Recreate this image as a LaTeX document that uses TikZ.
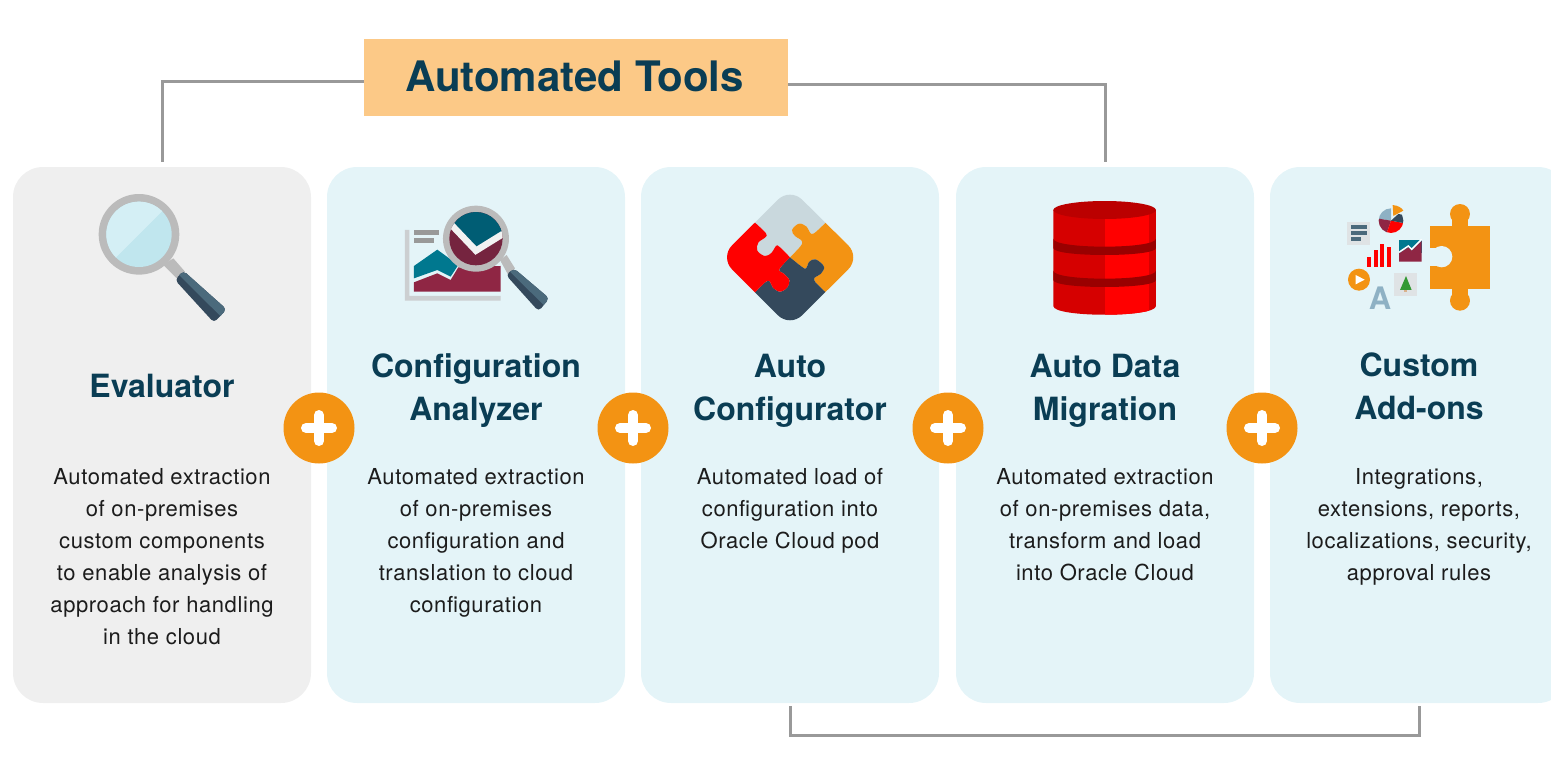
\documentclass[tikz,border=0pt]{standalone}
\usepackage{fontspec}
\setmainfont{TeX Gyre Heros}
\definecolor{panelgray}{HTML}{EFEFEF}
\definecolor{panelblue}{HTML}{E4F4F8}
\definecolor{headblue}{HTML}{0A3D54}
\definecolor{bodyblack}{HTML}{1C1C1C}
\definecolor{linegray}{HTML}{999999}
\definecolor{titleorange}{HTML}{FCC987}
\definecolor{plusorange}{HTML}{F39313}
\definecolor{ringgray}{HTML}{BBBBBB}
\definecolor{slate}{HTML}{34495C}
\definecolor{slatelight}{HTML}{4B6A7C}
\definecolor{teal}{HTML}{00788F}
\definecolor{tealdark}{HTML}{005D74}
\definecolor{wine}{HTML}{8F2644}
\definecolor{winedark}{HTML}{75243F}
\definecolor{iconbox}{HTML}{DFE3E5}
\definecolor{steelblue}{HTML}{8EB1C4}
\definecolor{lensdark}{HTML}{C0E6EE}
\definecolor{lenslight}{HTML}{D4EFF5}
\definecolor{puzzlegray}{HTML}{C9D8DD}
\definecolor{dbface}{HTML}{D60000}
\definecolor{dbband}{HTML}{990000}
\definecolor{dbtop}{HTML}{BB0000}
\tikzset{
  panel/.style={minimum width=298pt,minimum height=536pt,rounded corners=30pt,inner sep=0pt,fill=panelblue},
  titlebox/.style={fill=titleorange,minimum width=424pt,minimum height=77pt,inner sep=0pt,text=headblue,font=\fontsize{42}{42}\selectfont\bfseries},
  heading/.style={text=headblue,align=center,anchor=north,inner sep=0pt,execute at begin node=\strut,font=\fontsize{32}{43}\selectfont\bfseries},
  bodytext/.style={text=bodyblack,align=center,anchor=north,inner sep=0pt,execute at begin node=\strut,font=\fontsize{22}{32}\selectfont\addfontfeature{LetterSpace=2.7}},
  plusdisc/.style={circle,fill=plusorange,minimum size=71pt,inner sep=0pt},
  connector/.style={draw=linegray,line width=3pt},
}
\begin{document}
\begin{tikzpicture}[x=1pt,y=-1pt]
\clip (0,0) rectangle (1551,758);
% panels
\node[panel,fill=panelgray] (evaluator) at (162,435) {};
\node[panel] (analyzer) at (476,435) {};
\node[panel] (configurator) at (790,435) {};
\node[panel] (migration) at (1105,435) {};
\node[panel] (addons) at (1419,435) {};
% title and its brackets
\node[titlebox] (title) at (576,77.5) {\raisebox{2.5pt}{Automated Tools\hspace{3pt}}};
\draw[connector] ([yshift=-3.5pt]title.west) -| ([yshift=5pt]evaluator.north);
\draw[connector] ([yshift=-6.5pt]title.east) -| ([yshift=5pt]migration.north);
\draw[connector] ([yshift=-3pt]configurator.south) -- ++(0,29) -| ([yshift=-3pt]addons.south);
% headings
\node[heading] (evaluatorhead) at (162,367) {Evaluator};
\node[heading] (analyzerhead) at (476,353) {Configuration\\Analyzer};
\node[heading] (configuratorhead) at (790,353.5) {Auto\\Configurator};
\node[heading] (migrationhead) at (1105,353.5) {Auto Data\\Migration};
\node[heading] (addonshead) at (1419,353) {Custom\\Add-ons};
% descriptions
\node[bodytext] (evaluatortext) at (162,468) {Automated extraction\\of on-premises\\custom components\\to enable analysis of\\approach for handling\\in the cloud};
\node[bodytext] (analyzertext) at (476,468) {Automated extraction\\of on-premises\\configuration and\\translation to cloud\\configuration};
\node[bodytext] (configuratortext) at (790,468) {Automated load of\\configuration into\\Oracle Cloud pod};
\node[bodytext] (migrationtext) at (1105,468) {Automated extraction\\of on-premises data,\\transform and load\\into Oracle Cloud};
\node[bodytext] (addonstext) at (1419,468) {Integrations,\\extensions, reports,\\localizations, security,\\approval rules};
% plus signs
\foreach \n/\x in {1/319,2/633,3/948,4/1262} {
  \node[plusdisc] (plus\n) at (\x,428) {};
  \draw[white,line width=10pt,line cap=round] ([xshift=-13pt]plus\n.center) -- ([xshift=13pt]plus\n.center);
  \draw[white,line width=10pt,line cap=round] ([yshift=-13pt]plus\n.center) -- ([yshift=13pt]plus\n.center);
}
% magnifier and chart icons
\begin{scope}[shift={(60,180)},scale=0.3333]
\fill[ringgray] (237,163) circle[radius=121];
\fill[ringgray] (310,255) -- (340,235) -- (375,275) -- (350,295) -- cycle;
\fill[lensdark] (237,163) circle[radius=98];
\begin{scope}
\clip (237,163) circle[radius=98];
\fill[lenslight] (100,30) -- (370,30) -- (100,300) -- cycle;
\end{scope}
\fill[slate,rounded corners=4pt] (370,272) -- (500,388) -- (462,428) -- (345,300) -- cycle;
\begin{scope}
\clip (358,286) -- (481,408) -- (520,380) -- (380,250) -- cycle;
\fill[slatelight,rounded corners=4pt] (370,272) -- (500,388) -- (462,428) -- (345,300) -- cycle;
\end{scope}
\fill[iconbox!80!gray] (1035,150) -- (1048,150) -- (1048,348) -- (1322,348) -- (1322,362) -- (1035,362) -- cycle;
\fill[gray!80] (1062,150) rectangle (1137,165);
\fill[gray!80] (1062,174) rectangle (1122,189);
\fill[teal] (1062,258) -- (1132,209) -- (1195,255) -- (1172,290) -- (1132,270) -- (1062,295) -- cycle;
\fill[wine] (1062,307) -- (1132,280) -- (1172,300) -- (1195,262) -- (1322,258) -- (1322,335) -- (1062,335) -- cycle;
\fill[ringgray] (1320,240) -- (1340,225) -- (1365,265) -- (1345,285) -- cycle;
\fill[slate,rounded corners=4pt] (1362,265) -- (1468,355) -- (1436,394) -- (1338,285) -- cycle;
\begin{scope}
\clip (1350,275) -- (1451,375) -- (1490,350) -- (1370,240) -- cycle;
\fill[slatelight,rounded corners=4pt] (1362,265) -- (1468,355) -- (1436,394) -- (1338,285) -- cycle;
\end{scope}
\fill[ringgray] (1248,176) circle[radius=99];
\begin{scope}
\clip (1248,176) circle[radius=80];
\fill[winedark] (1160,90) rectangle (1340,260);
\fill[tealdark] (1160,90) -- (1340,90) -- (1340,145) -- (1248,205) -- (1170,130) -- cycle;
\draw[white!90!gray,line width=6.5pt] (1170,130) -- (1248,212) -- (1340,155);
\end{scope}
\end{scope}
% puzzle and database icons
\begin{scope}[shift={(700,180)},scale=0.3333]
\begin{scope}
\clip[rounded corners=17pt] (270,23) -- (481,232) -- (270,442) -- (60,232) -- cycle;
\fill[puzzlegray] (40,0) -- (165,128) -- plot[smooth,tension=0.6] coordinates {(165,128) (198,160) (196,172) (175,188) (172,212) (195,228) (215,218) (228,198) (238,200) (270,232)} -- plot[smooth,tension=0.6] coordinates {(270,232) (302,198) (305,182) (285,168) (276,150) (297,131) (320,140) (330,158) (342,160) (377,128)} -- (500,0) -- cycle;
\fill[plusorange] (500,232) -- (377,128) -- plot[smooth,tension=0.6] coordinates {(377,128) (342,160) (330,158) (320,140) (297,131) (276,150) (285,168) (305,182) (302,198) (270,232)} -- plot[smooth,tension=0.6] coordinates {(270,232) (305,260) (318,265) (328,245) (347,238) (372,260) (362,282) (345,292) (345,305) (377,337)} -- cycle;
\fill[slate] (270,470) -- (377,337) -- plot[smooth,tension=0.6] coordinates {(377,337) (345,305) (345,292) (362,282) (372,260) (347,238) (328,245) (318,265) (305,260) (270,232)} -- plot[smooth,tension=0.6] coordinates {(270,232) (238,268) (250,280) (268,300) (262,322) (240,335) (218,322) (210,305) (198,305) (165,337)} -- cycle;
\fill[red] (40,232) -- (165,337) -- plot[smooth,tension=0.6] coordinates {(165,337) (198,305) (210,305) (218,322) (240,335) (262,322) (268,300) (250,280) (238,268) (270,232)} -- plot[smooth,tension=0.6] coordinates {(270,232) (238,200) (228,198) (215,218) (195,228) (172,212) (175,188) (196,172) (198,160) (165,128)} -- cycle;
\end{scope}
\fill[dbface] (1060,90) -- (1060,378) .. controls (1060,413) and (1368,413) .. (1368,378) -- (1368,90) -- cycle;
\begin{scope}
\clip (1060,90) -- (1060,378) .. controls (1060,413) and (1368,413) .. (1368,378) -- (1368,90) -- cycle;
\fill[red] (1215,60) rectangle (1347,420);
\fill[dbband] (1060,176) .. controls (1060,208) and (1368,208) .. (1368,176) -- (1368,204) .. controls (1368,232) and (1060,232) .. (1060,204) -- cycle;
\fill[dbband] (1060,272) .. controls (1060,304) and (1368,304) .. (1368,272) -- (1368,300) .. controls (1368,328) and (1060,328) .. (1060,300) -- cycle;
\end{scope}
\fill[dbtop] (1214,90) ellipse[x radius=154,y radius=27];
\end{scope}
% add-ons icon
\begin{scope}[shift={(1330,190)},scale=0.3333]
\fill[plusorange] (390,72) circle[radius=30];
\fill[plusorange] (390,332) circle[radius=30];
\fill[plusorange] (366,80) rectangle (414,110);
\fill[plusorange] (366,290) rectangle (414,325);
\fill[plusorange] (300,108) rectangle (480,296);
\fill[panelblue] (335,200) circle[radius=32];
\fill[panelblue] (299,174) rectangle (335,228);
\fill[iconbox] (52,97) rectangle (120,165);
\fill[slatelight] (63,106) rectangle (110,116);
\fill[slatelight] (63,123) rectangle (110,134);
\fill[slatelight] (63,141) rectangle (93,152);
\begin{scope}
\clip (183,92) circle[radius=37];
\fill[steelblue] (183,92) -- (183,50) -- (140,50) -- (140,85) -- cycle;
\fill[wine] (183,92) -- (140,85) -- (140,135) -- (168,135) -- cycle;
\fill[red] (183,92) -- (168,135) -- (225,135) -- (225,100) -- cycle;
\fill[slate] (183,92) -- (225,100) -- (225,75) -- (205,72) -- cycle;
\end{scope}
\fill[plusorange] (188,45) .. controls (205,47) and (215,53) .. (220,62) -- (190,78) -- cycle;
\foreach \x/\top in {111/201,132/180,151/162,171/171}
  \fill[red] (\x,\top) rectangle (\x+12,231);
\fill[teal] (207,149) rectangle (275,190);
\fill[wine] (207,215) -- (207,190) -- (235,172) -- (245,182) -- (275,152) -- (275,215) -- cycle;
\draw[white,line width=1.5pt] (207,187) -- (235,168) -- (245,178) -- (275,148);
\fill[plusorange] (87,269) circle[radius=33];
\fill[white] (77,255) -- (104,269) -- (77,283) -- cycle;
\fill[iconbox] (192,249) rectangle (261,318);
\fill[brown!60] (222,296) rectangle (232,306);
\fill[green!50!black!80] (228,258) -- (245,300) -- (210,300) -- cycle;
\end{scope}
\node[inner sep=0pt,text=steelblue,font=\fontsize{31}{31}\selectfont\bfseries] (letter) at (1380,298) {A};
\end{tikzpicture}
\end{document}
